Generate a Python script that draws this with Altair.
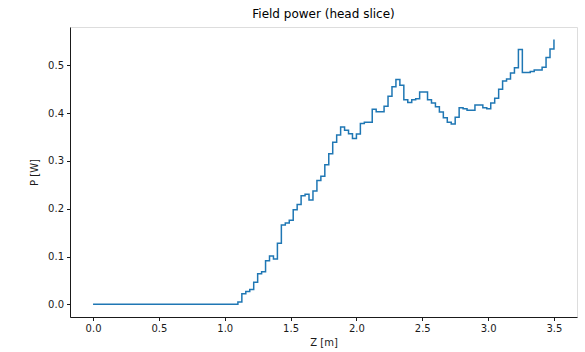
import altair as alt
import pandas as pd

# Axial position [m] (step locations)
z_m = [0.00,
       1.10, 1.13, 1.16, 1.19, 1.22, 1.25, 1.28, 1.31, 1.34, 1.37,
       1.40, 1.43, 1.46, 1.49, 1.52, 1.55, 1.58, 1.61, 1.64, 1.67,
       1.70, 1.73, 1.76, 1.79, 1.82, 1.85, 1.88, 1.91, 1.94, 1.97,
       2.00, 2.03, 2.06, 2.09, 2.12, 2.15, 2.18, 2.21, 2.24, 2.27,
       2.30, 2.33, 2.36, 2.39, 2.42, 2.45, 2.48, 2.51, 2.54, 2.57,
       2.60, 2.63, 2.66, 2.69, 2.72, 2.75, 2.78, 2.81, 2.84, 2.87,
       2.90, 2.93, 2.96, 2.99, 3.02, 3.05, 3.08, 3.11, 3.14, 3.17,
       3.20, 3.23, 3.26, 3.29, 3.32, 3.35, 3.38, 3.41, 3.44, 3.47,
       3.50]

# Field power [W]
p_w = [0.000,
       0.005, 0.022, 0.027, 0.031, 0.046, 0.064, 0.068, 0.091, 0.101, 0.095,
       0.128, 0.166, 0.170, 0.176, 0.198, 0.209, 0.227, 0.230, 0.218, 0.237,
       0.259, 0.268, 0.292, 0.315, 0.339, 0.354, 0.371, 0.364, 0.357, 0.347,
       0.356, 0.378, 0.381, 0.381, 0.408, 0.403, 0.403, 0.414, 0.435, 0.455,
       0.470, 0.458, 0.428, 0.422, 0.428, 0.430, 0.444, 0.444, 0.428, 0.421,
       0.413, 0.402, 0.390, 0.381, 0.377, 0.391, 0.411, 0.409, 0.406, 0.406,
       0.417, 0.417, 0.411, 0.409, 0.421, 0.431, 0.450, 0.467, 0.471, 0.484,
       0.495, 0.533, 0.485, 0.485, 0.487, 0.490, 0.490, 0.496, 0.516, 0.534,
       0.554]

x_ticks = [0.0, 0.5, 1.0, 1.5, 2.0, 2.5, 3.0, 3.5]
y_ticks = [0.0, 0.1, 0.2, 0.3, 0.4, 0.5]

df = pd.DataFrame({"z": z_m, "p": p_w})

FONT = "DejaVu Sans"
INK = "#1a1a1a"

common_axis = dict(
    format=".1f",
    grid=False,
    tickSize=3.5,
    tickColor=INK,
    tickWidth=1,
    domainColor=INK,
    domainWidth=1,
    labelFont=FONT,
    labelFontSize=10,
    labelColor=INK,
    labelPadding=3,
    titleFont=FONT,
    titleFontSize=10,
    titleFontWeight="normal",
    titleColor=INK,
)

chart = (
    alt.Chart(df)
    .mark_line(color="#1f77b4", strokeWidth=1.5, interpolate="step-after")
    .encode(
        x=alt.X(
            "z:Q",
            scale=alt.Scale(domain=[-0.175, 3.675], nice=False, zero=False),
            axis=alt.Axis(title="Z [m]", values=x_ticks, titlePadding=4,
                          **common_axis),
        ),
        y=alt.Y(
            "p:Q",
            scale=alt.Scale(domain=[-0.0265, 0.580], nice=False, zero=False),
            axis=alt.Axis(title="P [W]", values=y_ticks, titlePadding=8,
                          **common_axis),
        ),
    )
    .properties(
        width=507,
        height=290,
        title=alt.TitleParams(
            "Field power (head slice)",
            font=FONT,
            fontSize=12,
            fontWeight="normal",
            color="black",
            offset=6,
        ),
        autosize=alt.AutoSizeParams(type="none"),
        padding={"left": 70, "top": 27, "right": 8, "bottom": 35},
    )
    .configure_view(stroke=INK, strokeWidth=1)
    .configure(background="white")
)

chart.save("out.html", embed_options={"renderer": "svg", "actions": False})
